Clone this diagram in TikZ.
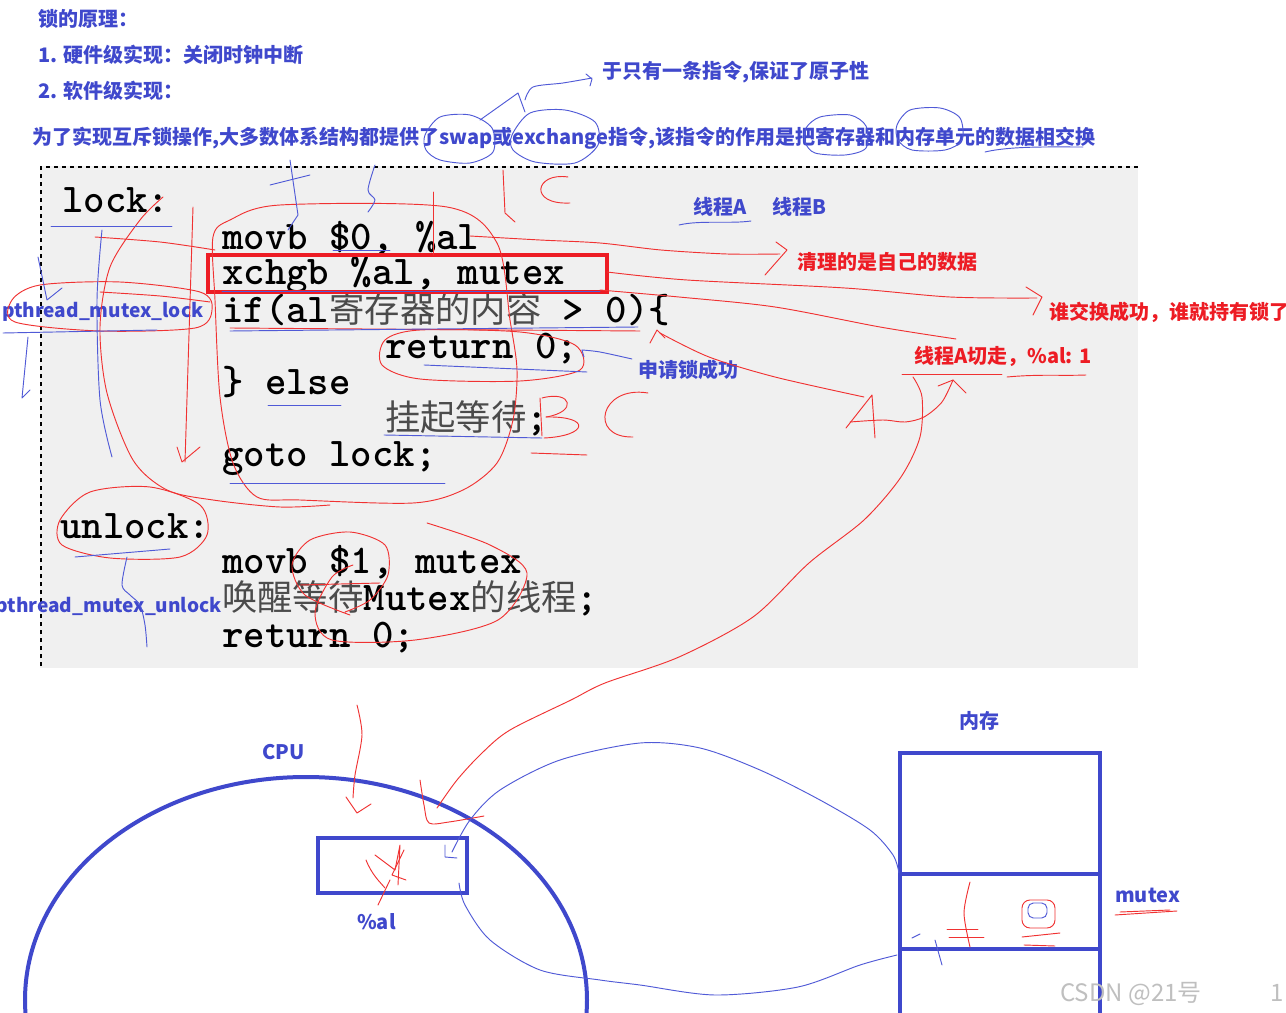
\documentclass[tikz,border=0pt]{standalone}
\usepackage{fontspec}
\newfontfamily\hei{Noto Sans CJK SC}
\definecolor{pblue}{RGB}{63,72,204}
\definecolor{pred}{RGB}{237,28,36}
\definecolor{penred}{RGB}{240,50,50}
\definecolor{penblue}{RGB}{80,90,215}
\definecolor{codebg}{RGB}{240,240,240}
\definecolor{cjkgray}{RGB}{75,75,75}
\newcommand\cjtxt[1]{{\hei\mdseries\fontsize{26.5}{30}\selectfont\color{cjkgray}#1}}
\tikzset{
  lbl/.style={inner sep=0pt, anchor=base west, font=\hei\bfseries\fontsize{15}{17}\selectfont, text=pblue},
  slbl/.style={lbl, font=\hei\bfseries\fontsize{14.3}{16}\selectfont},
  rlbl/.style={lbl, text=pred},
  codeline/.style={inner sep=0pt, anchor=base west, font=\ttfamily\bfseries\fontsize{30.6}{36}\selectfont, text=black},
  rpen/.style={draw=penred, line width=0.7pt, line cap=round, line join=round},
  bpen/.style={draw=penblue, line width=0.7pt, line cap=round, line join=round},
  heavy/.style={draw=pblue, line width=3pt},
}
\begin{document}
\begin{tikzpicture}[x=0.75pt,y=-0.75pt]
\useasboundingbox (0,0) rectangle (1286,1013);
\clip (0,0) rectangle (1286,1013);
\fill[white] (0,0) rectangle (1286,1013);

% ---------- header texts ----------
\node[lbl] (t1) at (38,27) {锁的原理：};
\node[lbl] (t2) at (38,63) {1. 硬件级实现：关闭时钟中断};
\node[lbl] (t3) at (38,99) {2. 软件级实现：};
\node[lbl] (t4) at (32,145) {为了实现互斥锁操作,大多数体系结构都提供了swap或exchange指令,该指令的作用是把寄存器和内存单元的数据相交换};
\node[lbl] (t5) at (602,79) {于只有一条指令,保证了原子性};

% ---------- code box ----------
\fill[codebg] (40,166) rectangle (1138,668);
\draw[black, line width=2.2pt, dash pattern=on 3pt off 3pt] (41,666) -- (41,167) -- (1138,167);

\node[codeline] (c1) at (62,213) {lock:};
\node[codeline] (c2) at (222,249) {movb \$0, \%al};
\node[codeline] (c3) at (222,285) {xchgb \%al, mutex};
\node[codeline] (c4) at (222,322) {if(al\cjtxt{寄存器的内容} > 0)\{};
\node[codeline] (c5) at (385,358) {return 0;};
\node[codeline] (c6) at (222,394) {\} else};
\node[codeline] (c7) at (385,430) {\cjtxt{挂起等待};};
\node[codeline] (c8) at (222,466) {goto lock;};
\node[codeline] (c9) at (60,538) {unlock:};
\node[codeline] (c10) at (222,573) {movb \$1, mutex};
\node[codeline] (c11) at (222,610) {\cjtxt{唤醒等待}Mutex\cjtxt{的线程};};
\node[codeline] (c12) at (222,647) {return 0;};

\draw[pred, line width=3pt] (208,255) rectangle (607,292);

% ---------- annotation labels ----------
\node[lbl] (ta) at (693,215) {线程A};
\node[lbl] (tb) at (772,215) {线程B};
\node[rlbl] (r1) at (797,269) {清理的是自己的数据};
\node[rlbl] (r2) at (1049,319) {谁交换成功，谁就持有锁了};
\node[lbl] (s1) at (638,377) {申请锁成功};
\node[rlbl] (r3) at (914,363) {线程A切走，\%al: 1};
\node[slbl] (p1) at (2,317) {pthread\_mutex\_lock};
\node[slbl, anchor=base east] (p2) at (222,612) {pthread\_mutex\_unlock};

% ---------- CPU and memory ----------
\node[lbl] (cpu) at (262,759) {CPU};
\draw[heavy] (306,1000) ellipse [x radius=281, y radius=223];
\draw[heavy] (318,838) rectangle (467,893);
\node[lbl] (al) at (357,929) {\%al};

\node[lbl] (mem) at (959,728) {内存};
\draw[heavy] (900,1030) -- (900,753) -- (1100,753) -- (1100,1030);
\draw[heavy] (900,874) -- (1100,874);
\draw[heavy] (900,949) -- (1100,949);
\node[lbl] (mx) at (1115,902) {mutex};

\node[inner sep=0pt, anchor=base west, font=\hei\fontsize{18}{20}\selectfont, text=black!25] (wm) at (1060,1001) {CSDN @21号};
\node[inner sep=0pt, anchor=base west, font=\hei\fontsize{18}{20}\selectfont, text=black!25] (wm2) at (1270,1001) {1};

% ---------- red pen strokes ----------
\draw[rpen] plot[smooth] coordinates {(470,236) (540,240) (600,243) (661,250) (727,254) (780,254)};
\draw[rpen] (776,242) -- (787,250) -- (765,275);
\draw[rpen] plot[smooth] coordinates {(607,272) (687,280) (845,288) (950,297) (1037,298)};
\draw[rpen] (1026,287) -- (1042,297) -- (1033,315);
\draw[rpen] plot[smooth] coordinates {(600,290) (679,297) (775,307) (880,327) (956,339)};
\draw[rpen] (650,343) -- (657,330) -- (665,338);
\draw[rpen] plot[smooth] coordinates {(660,333) (709,357) (775,377) (864,397)};
\draw[rpen] (846,428) -- (872,395) -- (875,438);
\draw[rpen] plot[smooth] coordinates {(850,422) (883,420) (905,422) (924,417) (942,402) (953,380)};
\draw[rpen] (938,386) -- (953,380) -- (966,393);
\draw[rpen] (902,374) -- (1002,374);
\draw[rpen] (1007,377) .. controls (1040,374) and (1060,376) .. (1086,375);
\draw[rpen] plot[smooth] coordinates {(913,377) (922,397) (920,437) (901,477) (864,520) (809,563) (753,617) (679,657) (605,683) (571,700) (510,730) (482,753) (457,780) (437,808)};
\draw[rpen] plot[smooth] coordinates {(420,780) (424,805) (429,823) (449,822) (484,816)};
\draw[rpen] plot[smooth] coordinates {(357,705) (362,735) (355,775) (353,798)};
\draw[rpen] (346,797) -- (357,813) -- (371,804);
\draw[rpen] (375,855) -- (395,870) -- (400,845) -- (398,885);
\draw[rpen] (366,860) .. controls (372,875) and (380,882) .. (385,888);
\draw[rpen] (404,850) -- (392,875) -- (406,880);
\draw[rpen] (390,880) -- (378,905);
\draw[rpen] (540,398) -- (542,436);
\draw[rpen] (542,398) .. controls (572,390) and (578,412) .. (546,417);
\draw[rpen] (546,417) .. controls (592,416) and (588,436) .. (544,438);
\draw[rpen] (648,393) .. controls (600,385) and (588,438) .. (633,437);
\draw[rpen] (568,177) .. controls (535,172) and (528,205) .. (570,203);
\draw[rpen] (531,453) -- (587,455);
\draw[rpen] (503,170) -- (505,213) -- (515,222);
\draw[rpen] (433,192) -- (433,255);
\draw[rpen] plot[smooth cycle] coordinates {(60,520) (90,492) (150,487) (200,505) (207,535) (180,557) (110,558) (62,545)};
\draw[rpen] plot[smooth cycle] coordinates {(12,300) (40,285) (120,282) (200,292) (212,310) (195,328) (100,331) (15,322)};
\draw[rpen] plot[smooth cycle] coordinates {(230,220) (280,205) (447,207) (497,243) (510,320) (517,370) (513,420) (497,463) (463,490) (413,503) (300,500) (257,497) (233,463) (220,397) (215,300) (213,237)};
\draw[rpen] plot[smooth cycle] coordinates {(385,340) (420,330) (520,332) (575,345) (580,370) (520,381) (420,379) (382,365)};
\draw[rpen] plot[smooth] coordinates {(163,197) (140,220) (110,267) (100,327) (107,393) (133,460) (167,490) (213,500) (280,507) (330,505)};
\draw[rpen] plot[smooth] coordinates {(350,615) (305,595) (292,565) (310,540) (350,532) (385,545) (388,575) (370,600) (345,612)};
\draw[rpen] plot[smooth] coordinates {(427,523) (490,545) (527,573) (498,620) (415,640) (332,640) (315,613) (332,577) (353,565)};
\draw[rpen] (193,207) -- (185,462);
\draw[rpen] (177,447) -- (182,462) -- (200,447);
\draw[rpen] plot[smooth] coordinates {(95,237) (160,242) (215,250)};
\draw[rpen] plot[smooth] coordinates {(100,292) (160,296) (210,302)};
\draw[rpen] (230,328) -- (640,331);
\draw[rpen] (300,585) -- (380,583);
\draw[rpen] plot[smooth] coordinates {(970,882) (964,913) (970,947)};
\draw[rpen] (947,929) -- (978,929);
\draw[rpen] (949,937) -- (984,937);
\draw[rpen, rounded corners=6pt] (1022,900) rectangle (1055,928);
\draw[bpen, rounded corners=4pt] (1028,903) rectangle (1047,918);
\draw[rpen] (1022,937) -- (1060,933);
\draw[rpen] (1024,945) -- (1055,946);
\draw[rpen] (1115,915) -- (1177,911);
\draw[rpen] (1120,912) -- (1170,910);

% ---------- blue pen strokes ----------
\draw[bpen] plot[smooth cycle] coordinates {(425,135) (440,117) (470,115) (492,128) (493,152) (470,163) (440,160) (426,150)};
\draw[bpen] plot[smooth cycle] coordinates {(512,135) (530,113) (565,110) (595,122) (598,145) (575,163) (535,162) (513,150)};
\draw[bpen] (480,120) -- (518,93) -- (525,112);
\draw[bpen] plot[smooth] coordinates {(525,100) (533,87) (563,83) (592,78)};
\draw[bpen] (586,74) -- (592,79) -- (590,86);
\draw[bpen] plot[smooth cycle] coordinates {(806,128) (820,117) (850,115) (866,126) (866,148) (845,155) (815,153) (805,142)};
\draw[bpen] plot[smooth cycle] coordinates {(897,125) (910,110) (940,108) (960,118) (962,140) (945,150) (912,150) (898,140)};
\draw[bpen] (985,152) .. controls (1010,146) and (1050,147) .. (1083,147);
\draw[bpen] (51,226) -- (172,226);
\draw[bpen] (3,333) -- (157,330);
\draw[bpen] (75,557) -- (170,549);
\draw[bpen] plot[smooth] coordinates {(127,557) (122,585) (130,595) (140,605) (145,625) (147,647)};
\draw[bpen] (28,337) -- (22,398) -- (30,390);
\draw[bpen] (38,257) -- (47,300) -- (62,288);
\draw[bpen] plot[smooth] coordinates {(102,230) (97,300) (100,400) (112,457)};
\draw[bpen] (270,185) -- (310,175);
\draw[bpen] (290,160) -- (298,215) -- (288,230);
\draw[bpen] plot[smooth] coordinates {(375,165) (368,190) (375,200) (368,212)};
\draw[bpen] (679,225) .. controls (700,220) and (730,224) .. (751,221);
\draw[bpen] plot[smooth] coordinates {(632,359) (600,352) (582,350)};
\draw[bpen] (582,350) -- (584,357);
\draw[bpen] (424,365) -- (587,372);
\draw[bpen] (268,405) -- (341,405);
\draw[bpen] (384,435) -- (542,438);
\draw[bpen] (230,483) -- (445,483);
\draw[bpen] (230,331) -- (638,327);
\draw[bpen] (333,250) -- (390,250);
\draw[bpen] (222,291) -- (600,291);
\draw[bpen] (445,845) -- (445,857) -- (457,858);
\draw[bpen] plot[smooth] coordinates {(452,852) (470,820) (500,790) (560,760) (640,743) (700,748) (760,770) (820,800) (870,830) (893,855) (899,873)};
\draw[bpen] plot[smooth] coordinates {(459,883) (465,905) (490,940) (540,970) (600,980) (640,985) (715,995) (798,987) (860,965) (897,955)};
\draw[bpen] (912,938) -- (920,934);
\draw[bpen] (935,940) -- (942,965);
\end{tikzpicture}
\end{document}
